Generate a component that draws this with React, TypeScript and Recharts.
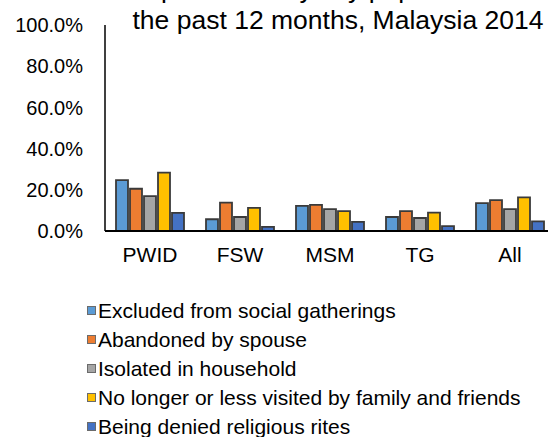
import React from 'react';
import { BarChart, Bar, XAxis, YAxis, Legend } from 'recharts';

const CATEGORIES = ['PWID', 'FSW', 'MSM', 'TG', 'All'];
const EXCLUDED = [0.247, 0.057, 0.122, 0.068, 0.135];
const ABANDONED = [0.205, 0.138, 0.127, 0.096, 0.15];
const ISOLATED = [0.169, 0.068, 0.106, 0.063, 0.106];
const NOT_VISITED = [0.283, 0.112, 0.096, 0.089, 0.163];
const DENIED_RITES = [0.088, 0.02, 0.044, 0.024, 0.047];
const SERIES_NAMES = [
  'Excluded from social gatherings',
  'Abandoned by spouse',
  'Isolated in household',
  'No longer or less visited by family and friends',
  'Being denied religious rites',
];
const Y_TICKS = [0, 0.2, 0.4, 0.6, 0.8, 1];
const TITLE_LINES = [
  'Social exclusion experienced by key population in',
  'the past 12 months, Malaysia 2014',
];

const COLORS = ['#5B9BD5', '#ED7D31', '#A5A5A5', '#FFC000', '#4472C4'];
const FONT = '"Liberation Sans", Arial, sans-serif';

const data = CATEGORIES.map((name, i) => ({
  name,
  excluded: EXCLUDED[i],
  abandoned: ABANDONED[i],
  isolated: ISOLATED[i],
  notVisited: NOT_VISITED[i],
  deniedRites: DENIED_RITES[i],
}));

const KEYS = ['excluded', 'abandoned', 'isolated', 'notVisited', 'deniedRites'];

// keep the legend in series order (recharts sorts by name otherwise)
const renderLegend = (props: any) => {
  const items = [...(props.payload || [])].sort(
    (a: any, b: any) => SERIES_NAMES.indexOf(a.value) - SERIES_NAMES.indexOf(b.value)
  );
  return (
    <div style={{ fontFamily: FONT, fontSize: 21, color: '#000' }}>
      {items.map((item: any) => (
        <div key={item.value} style={{ display: 'flex', alignItems: 'center', height: 29, whiteSpace: 'nowrap' }}>
          <span
            style={{
              display: 'inline-block',
              width: 7,
              height: 7,
              background: item.color,
              border: '1px solid #6b6b6b',
              marginRight: 2,
            }}
          />
          <span>{item.value}</span>
        </div>
      ))}
    </div>
  );
};

export default function App() {
  return (
    <div style={{ position: 'fixed', left: 0, top: 0, width: 548, height: 437, overflow: 'hidden', background: '#fff' }}>
      <BarChart
        width={560}
        height={437}
        data={data}
        margin={{ top: 25, right: 5, left: 0, bottom: 176 }}
        barCategoryGap={11}
        barGap={2}
      >
        <text x={519} y={-2} textAnchor="end" fontSize={26.5} fontFamily={FONT} fill="#000">
          {TITLE_LINES[0]}
        </text>
        <text x={338} y={29} textAnchor="middle" fontSize={26.5} fontFamily={FONT} fill="#000">
          {TITLE_LINES[1]}
        </text>
        <XAxis
          dataKey="name"
          height={30}
          axisLine={{ stroke: '#000', strokeWidth: 2 }}
          tickLine={false}
          tickSize={0}
          tickMargin={16}
          tick={{ fill: '#000', fontSize: 21, fontFamily: FONT }}
        />
        <YAxis
          width={105}
          domain={[0, 1]}
          ticks={Y_TICKS}
          axisLine={{ stroke: '#000', strokeWidth: 1.5 }}
          tickLine={false}
          tickSize={0}
          tickMargin={22}
          tick={{ fill: '#000', fontSize: 20, fontFamily: FONT }}
          tickFormatter={(v: number) => `${(v * 100).toFixed(1)}%`}
        />
        <Legend
          layout="vertical"
          align="center"
          verticalAlign="middle"
          content={renderLegend}
          wrapperStyle={{ left: 87, top: 296, width: 460 }}
        />
        {KEYS.map((k, i) => (
          <Bar
            key={k}
            name={SERIES_NAMES[i]}
            dataKey={k}
            fill={COLORS[i]}
            stroke="#3a3a3a"
            strokeWidth={1.8}
            isAnimationActive={false}
          />
        ))}
      </BarChart>
    </div>
  );
}
